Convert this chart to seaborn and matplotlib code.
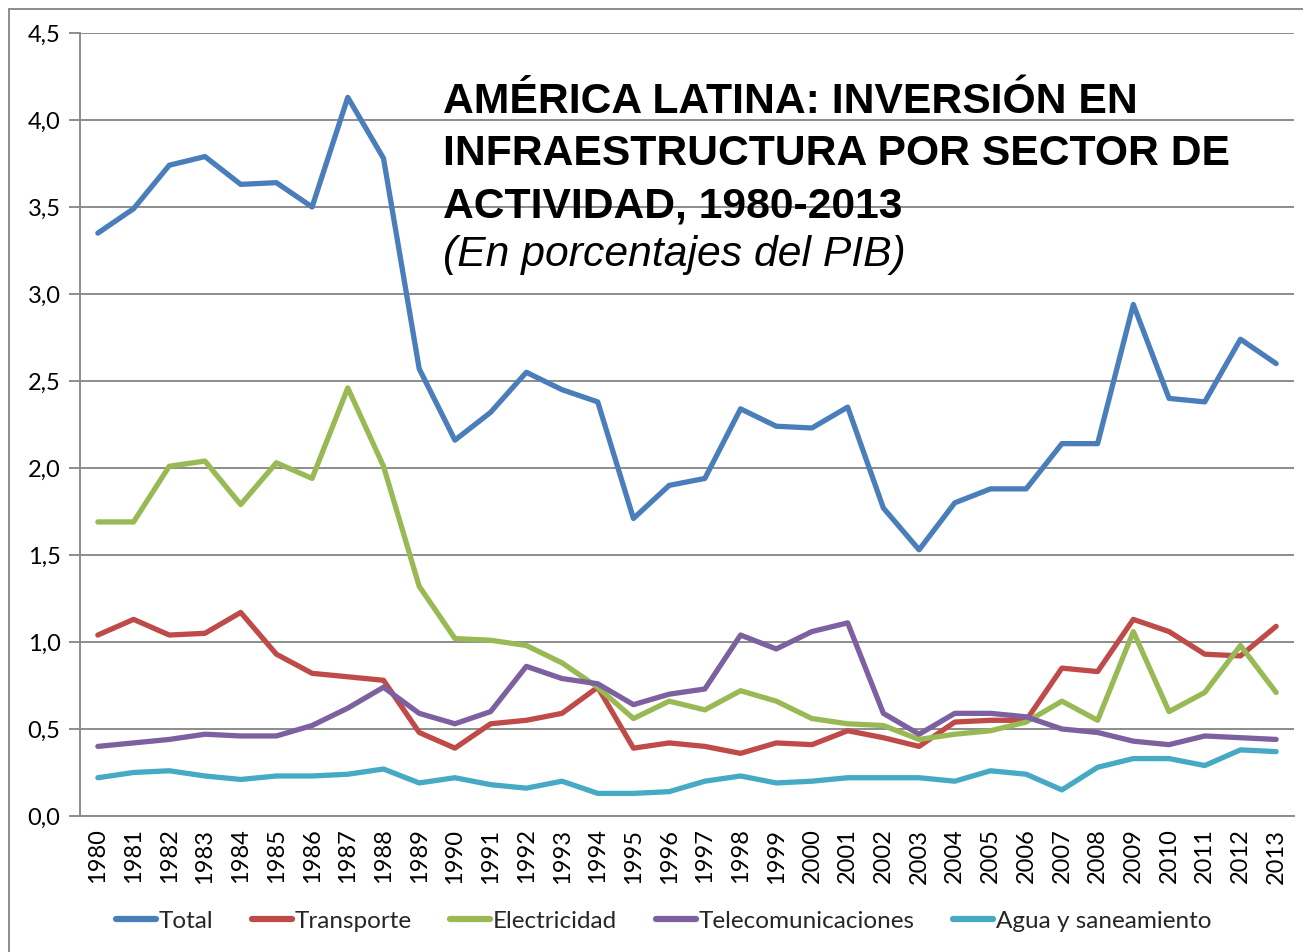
import numpy as np
import pandas as pd
import matplotlib
matplotlib.use("Agg")
import matplotlib.pyplot as plt
import seaborn as sns
from matplotlib.lines import Line2D

years = list(range(1980, 2014))
total = [3.35, 3.49, 3.74, 3.79, 3.63, 3.64, 3.50, 4.13, 3.78, 2.57, 2.16, 2.32, 2.55, 2.45, 2.38,
         1.71, 1.90, 1.94, 2.34, 2.24, 2.23, 2.35, 1.77, 1.53, 1.80, 1.88, 1.88, 2.14, 2.14, 2.94,
         2.40, 2.38, 2.74, 2.60]
transporte = [1.04, 1.13, 1.04, 1.05, 1.17, 0.93, 0.82, 0.80, 0.78, 0.48, 0.39, 0.53, 0.55, 0.59, 0.74,
              0.39, 0.42, 0.40, 0.36, 0.42, 0.41, 0.49, 0.45, 0.40, 0.54, 0.55, 0.55, 0.85, 0.83, 1.13,
              1.06, 0.93, 0.92, 1.09]
electricidad = [1.69, 1.69, 2.01, 2.04, 1.79, 2.03, 1.94, 2.46, 2.01, 1.32, 1.02, 1.01, 0.98, 0.88, 0.74,
                0.56, 0.66, 0.61, 0.72, 0.66, 0.56, 0.53, 0.52, 0.44, 0.47, 0.49, 0.54, 0.66, 0.55, 1.06,
                0.60, 0.71, 0.98, 0.71]
telecom = [0.40, 0.42, 0.44, 0.47, 0.46, 0.46, 0.52, 0.62, 0.74, 0.59, 0.53, 0.60, 0.86, 0.79, 0.76,
           0.64, 0.70, 0.73, 1.04, 0.96, 1.06, 1.11, 0.59, 0.47, 0.59, 0.59, 0.57, 0.50, 0.48, 0.43,
           0.41, 0.46, 0.45, 0.44]
agua = [0.22, 0.25, 0.26, 0.23, 0.21, 0.23, 0.23, 0.24, 0.27, 0.19, 0.22, 0.18, 0.16, 0.20, 0.13,
        0.13, 0.14, 0.20, 0.23, 0.19, 0.20, 0.22, 0.22, 0.22, 0.20, 0.26, 0.24, 0.15, 0.28, 0.33,
        0.33, 0.29, 0.38, 0.37]

series_names = ["Total", "Transporte", "Electricidad", "Telecomunicaciones", "Agua y saneamiento"]
colors = ["#4A7EBB", "#BE4B48", "#98B954", "#7D60A0", "#46AAC5"]
ytick_vals = [0.0, 0.5, 1.0, 1.5, 2.0, 2.5, 3.0, 3.5, 4.0, 4.5]
ytick_labels = ["0,0", "0,5", "1,0", "1,5", "2,0", "2,5", "3,0", "3,5", "4,0", "4,5"]
title_lines = ["AMÉRICA LATINA: INVERSIÓN EN", "INFRAESTRUCTURA POR SECTOR DE", "ACTIVIDAD, 1980-2013"]
subtitle = "(En porcentajes del PIB)"

frames = []
for name, vals in zip(series_names, [total, transporte, electricidad, telecom, agua]):
    frames.append(pd.DataFrame({"pos": np.arange(len(years)), "value": vals, "serie": name}))
df = pd.concat(frames, ignore_index=True)

sns.set_theme(style="white")
plt.rcParams['font.family'] = ['Lato', 'DejaVu Sans']

W, H = 1303, 952
fig = plt.figure(figsize=(W / 100, H / 100), dpi=100)
ax = fig.add_axes([80 / W, 1 - 816 / H, (1294 - 80) / W, (816 - 33) / H])

sns.lineplot(data=df, x="pos", y="value", hue="serie", hue_order=series_names,
             palette=colors, linewidth=3.8, ax=ax, legend=False,
             solid_capstyle="round", solid_joinstyle="round")

gridc = "#8C8C8C"
ax.set_xlim(-0.5, len(years) - 0.5)
ax.set_ylim(0, 4.5)
ax.set_yticks(ytick_vals)
ax.set_yticklabels(ytick_labels, fontsize=17, color="black")
ax.yaxis.grid(True, color=gridc, linewidth=1.4)
ax.set_axisbelow(True)
ax.set_xticks(np.arange(len(years)))
ax.set_xticklabels([str(y) for y in years], rotation=90, fontsize=17, color="black")
ax.set_xticks(np.arange(len(years) + 1) - 0.5, minor=True)
ax.tick_params(axis="x", which="major", length=0, pad=9)
ax.tick_params(axis="x", which="minor", length=8, width=1.4, color=gridc, direction="out")
ax.tick_params(axis="y", length=8, width=1.4, color=gridc, direction="out", left=True, pad=6)
ax.set_xlabel("")
ax.set_ylabel("")
for s in ["top", "right"]:
    ax.spines[s].set_visible(False)
for s in ["left", "bottom"]:
    ax.spines[s].set_color(gridc)
    ax.spines[s].set_linewidth(1.4)

# Title
baselines = [113, 165, 217]
for line, b in zip(title_lines, baselines):
    fig.text(443 / W, 1 - b / H, line, fontsize=30.7, fontweight="bold",
             family=["Liberation Sans", "DejaVu Sans"], va="baseline", ha="left", color="black")
fig.text(443 / W, 1 - 266 / H, subtitle, fontsize=30.7, style="italic",
         family=["Liberation Sans", "DejaVu Sans"], va="baseline", ha="left", color="black")

# Legend
handles = [Line2D([0], [0], color=c, linewidth=4.5, solid_capstyle="round") for c in colors]
leg = fig.legend(handles, series_names, loc="center", bbox_to_anchor=(663.5 / W, 1 - 921 / H),
                 ncol=5, frameon=False, fontsize=17.5, handlelength=1.65, handletextpad=0.1,
                 columnspacing=1.6)

# Outer border (top and left)
fig.add_artist(Line2D([9 / W, 1], [1 - 9 / H, 1 - 9 / H], color="#8C8C8C", linewidth=1.4,
                      transform=fig.transFigure))
fig.add_artist(Line2D([9 / W, 9 / W], [0, 1 - 9 / H], color="#8C8C8C", linewidth=1.4,
                      transform=fig.transFigure))

fig.savefig("out.png", dpi=100)
